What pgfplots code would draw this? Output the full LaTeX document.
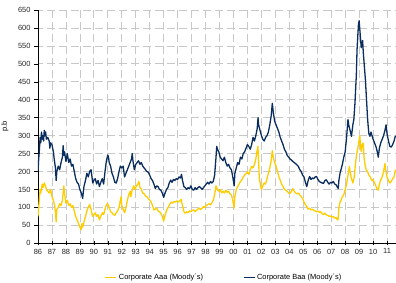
\documentclass[border=0pt]{standalone}
\usepackage{fontspec}
\setmainfont{Liberation Sans}
\usepackage{pgfplots}
\pgfplotsset{compat=1.18}
\definecolor{aaa}{RGB}{255,204,0}
\definecolor{baa}{RGB}{10,45,95}
\definecolor{gridc}{RGB}{200,200,200}
\begin{document}
\begin{tikzpicture}
\path[use as bounding box] (0,0) rectangle (396bp,283bp);
\begin{axis}[
  at={(38bp,39.7bp)}, anchor=south west,
  scale only axis, width=358bp, height=233.3bp,
  xmin=1986, xmax=2011.64, ymin=0, ymax=650,
  axis x line*=bottom, axis y line*=left,
  axis line style={black, line width=0.6pt, -},
  xtick={1986,...,2011},
  xticklabels={86,87,88,89,90,91,92,93,94,95,96,97,98,99,00,01,02,03,04,05,06,07,08,09,10,11},
  ytick={0,50,...,650},
  /pgf/number format/assume math mode=true,
  tick label style={font=\fontsize{7.5}{9}\selectfont, text=black!85},
  x tick style={black, line width=0.5pt},
  y tick style={black, line width=0.5pt},
  xtick align=center, ytick align=outside,
  major tick length=4bp,
  grid=major,
  major grid style={gridc, line width=0.7pt, dash pattern=on 8bp off 4bp, dash phase=3bp},
  ylabel={p.b},
  ylabel style={font=\fontsize{7.5}{9}\selectfont, at={(axis description cs:-0.073,0.5)}, anchor=south},
  legend columns=2,
  legend style={at={(axis description cs:0.52,-0.1445)}, anchor=center, draw=none, fill=none,
    font=\fontsize{7.5}{9}\selectfont,
    /tikz/every even column/.append style={column sep=38bp}},
  legend image code/.code={\draw[#1, line width=0.9pt] (0bp,0bp) -- (11bp,0bp);},
  every axis plot/.append style={line width=1.3pt, line join=round},
]
\addplot[aaa] coordinates {
(1986.0,75)(1986.05,100)(1986.1,125)(1986.15,150)(1986.2,140)(1986.3,165)(1986.35,155)(1986.45,168)(1986.55,158)(1986.6,150)(1986.7,145)(1986.8,140)(1986.9,150)
(1987.0,130)(1987.1,120)(1987.2,105)(1987.25,85)(1987.3,60)(1987.35,95)(1987.45,100)(1987.55,110)(1987.65,105)(1987.75,120)(1987.85,160)(1987.9,140)
(1988.0,112)(1988.1,120)(1988.2,105)(1988.3,110)(1988.4,100)(1988.5,105)(1988.6,90)(1988.7,75)(1988.8,65)(1988.9,55)
(1989.0,45)(1989.1,38)(1989.15,55)(1989.2,45)(1989.3,60)(1989.4,75)(1989.5,90)(1989.6,100)(1989.7,108)(1989.8,95)(1989.9,75)
(1990.0,80)(1990.1,85)(1990.2,75)(1990.3,80)(1990.4,65)(1990.5,75)(1990.6,85)(1990.7,80)(1990.8,95)(1990.9,108)
(1991.0,110)(1991.1,100)(1991.2,88)(1991.3,85)(1991.4,80)(1991.5,78)(1991.6,85)(1991.7,90)(1991.8,100)(1991.9,120)(1991.95,130)
(1992.0,105)(1992.1,95)(1992.2,85)(1992.3,100)(1992.4,120)(1992.5,135)(1992.6,145)(1992.65,130)(1992.75,150)(1992.85,160)(1992.95,150)
(1993.05,160)(1993.15,165)(1993.23,172)(1993.3,155)(1993.4,150)(1993.5,140)(1993.6,138)(1993.7,132)(1993.8,130)(1993.9,125)
(1994.0,120)(1994.1,115)(1994.2,105)(1994.3,93)(1994.4,95)(1994.5,98)(1994.6,90)(1994.7,88)(1994.8,84)(1994.9,75)
(1995.0,62)(1995.05,70)(1995.15,85)(1995.25,95)(1995.35,102)(1995.45,110)(1995.55,115)(1995.65,112)(1995.75,116)(1995.85,115)(1995.95,118)
(1996.05,115)(1996.15,118)(1996.25,122)(1996.35,105)(1996.45,88)(1996.55,84)(1996.65,88)(1996.75,85)(1996.85,90)(1996.95,88)
(1997.05,92)(1997.15,93)(1997.25,88)(1997.35,92)(1997.45,95)(1997.55,98)(1997.65,94)(1997.75,98)(1997.85,102)(1997.95,100)
(1998.05,105)(1998.15,108)(1998.25,110)(1998.35,107)(1998.45,112)(1998.55,120)(1998.65,135)(1998.75,160)(1998.85,150)(1998.95,145)
(1999.05,150)(1999.15,140)(1999.25,145)(1999.35,140)(1999.45,148)(1999.55,142)(1999.65,145)(1999.75,138)(1999.85,135)(1999.95,120)
(2000.04,98)(2000.1,130)(2000.2,150)(2000.3,158)(2000.4,165)(2000.5,172)(2000.6,177)(2000.7,185)(2000.8,190)(2000.9,195)
(2001.0,198)(2001.1,192)(2001.2,205)(2001.3,214)(2001.4,210)(2001.5,220)(2001.6,235)(2001.7,260)(2001.75,270)(2001.8,230)(2001.85,180)(2001.9,170)
(2002.0,150)(2002.1,160)(2002.2,168)(2002.3,165)(2002.4,180)(2002.5,195)(2002.6,210)(2002.7,230)(2002.78,258)(2002.85,240)(2002.95,225)
(2003.05,215)(2003.15,200)(2003.25,185)(2003.35,176)(2003.45,165)(2003.55,158)(2003.65,150)(2003.75,148)(2003.85,145)(2003.95,140)
(2004.05,139)(2004.15,145)(2004.25,152)(2004.35,145)(2004.45,140)(2004.55,138)(2004.65,140)(2004.75,135)(2004.85,130)(2004.95,125)
(2005.05,115)(2005.15,108)(2005.25,102)(2005.35,95)(2005.45,98)(2005.55,93)(2005.65,95)(2005.75,92)(2005.85,90)(2005.95,88)
(2006.05,90)(2006.15,86)(2006.25,88)(2006.35,82)(2006.45,80)(2006.55,84)(2006.65,79)(2006.75,78)(2006.85,75)(2006.95,76)
(2007.05,73)(2007.15,75)(2007.25,70)(2007.35,72)(2007.45,65)(2007.5,68)(2007.55,100)(2007.63,115)(2007.7,120)(2007.8,130)(2007.9,135)
(2008.0,150)(2008.1,165)(2008.2,190)(2008.3,214)(2008.35,200)(2008.45,180)(2008.55,168)(2008.65,185)(2008.72,215)(2008.8,242)(2008.9,265)(2008.97,280)
(2009.05,300)(2009.1,270)(2009.15,255)(2009.22,275)(2009.3,279)(2009.35,240)(2009.42,220)(2009.5,205)(2009.6,200)(2009.7,190)(2009.8,185)(2009.9,175)
(2010.0,177)(2010.1,168)(2010.2,160)(2010.3,150)(2010.37,148)(2010.45,165)(2010.55,177)(2010.65,185)(2010.75,200)(2010.85,222)(2010.9,205)
(2011.0,185)(2011.1,175)(2011.2,168)(2011.3,172)(2011.4,180)(2011.5,185)(2011.6,205)
};
\addlegendentry{Corporate Aaa (Moody´s)}
\addplot[baa] coordinates {
(1986.0,200)(1986.05,235)(1986.1,260)(1986.15,295)(1986.2,280)(1986.25,310)(1986.3,290)(1986.35,300)(1986.4,285)(1986.45,315)(1986.5,300)(1986.55,310)(1986.6,290)(1986.7,295)(1986.8,285)(1986.85,265)(1986.9,280)
(1987.0,275)(1987.1,255)(1987.17,232)(1987.25,210)(1987.3,175)(1987.35,200)(1987.45,215)(1987.55,205)(1987.65,225)(1987.75,240)(1987.8,272)(1987.85,245)(1987.9,255)
(1988.0,228)(1988.1,250)(1988.2,225)(1988.3,235)(1988.4,215)(1988.5,220)(1988.6,200)(1988.7,180)(1988.8,170)(1988.9,165)
(1989.0,150)(1989.1,140)(1989.2,125)(1989.25,145)(1989.3,160)(1989.4,175)(1989.5,195)(1989.6,185)(1989.7,200)(1989.8,205)(1989.85,190)(1989.92,168)
(1990.0,175)(1990.1,180)(1990.2,165)(1990.3,175)(1990.4,158)(1990.5,170)(1990.6,180)(1990.7,165)(1990.8,200)(1990.9,230)
(1991.0,246)(1991.05,240)(1991.1,225)(1991.2,215)(1991.3,195)(1991.4,185)(1991.5,170)(1991.6,168)(1991.7,180)(1991.8,200)(1991.9,215)
(1992.0,210)(1992.1,215)(1992.2,185)(1992.3,195)(1992.4,205)(1992.5,215)(1992.6,225)(1992.7,235)(1992.75,250)(1992.8,230)(1992.9,205)
(1993.0,220)(1993.1,225)(1993.2,230)(1993.3,220)(1993.4,225)(1993.5,215)(1993.6,210)(1993.7,205)(1993.8,200)(1993.9,198)
(1994.0,190)(1994.1,180)(1994.2,175)(1994.3,165)(1994.4,153)(1994.5,160)(1994.6,158)(1994.7,150)(1994.8,148)(1994.9,140)
(1995.0,128)(1995.1,140)(1995.2,150)(1995.3,155)(1995.4,168)(1995.5,176)(1995.6,170)(1995.7,178)(1995.8,175)(1995.9,180)
(1996.0,178)(1996.1,185)(1996.2,182)(1996.28,192)(1996.35,175)(1996.45,158)(1996.55,155)(1996.65,150)(1996.75,155)(1996.85,152)(1996.95,160)
(1997.05,150)(1997.15,148)(1997.25,155)(1997.35,150)(1997.45,155)(1997.55,158)(1997.65,155)(1997.75,150)(1997.85,155)(1997.95,160)
(1998.05,165)(1998.15,170)(1998.25,165)(1998.35,172)(1998.45,168)(1998.55,172)(1998.65,190)(1998.75,240)(1998.8,270)(1998.85,262)(1998.95,255)
(1999.05,240)(1999.15,235)(1999.25,230)(1999.35,240)(1999.45,225)(1999.55,215)(1999.65,220)(1999.75,210)(1999.85,205)(1999.95,185)
(2000.05,160)(2000.1,195)(2000.2,210)(2000.3,225)(2000.4,220)(2000.5,240)(2000.6,235)(2000.7,250)(2000.8,255)(2000.9,265)
(2001.0,275)(2001.1,270)(2001.2,262)(2001.3,275)(2001.4,295)(2001.5,285)(2001.6,300)(2001.7,320)(2001.76,350)(2001.8,330)(2001.9,315)
(2002.0,300)(2002.1,290)(2002.2,285)(2002.3,295)(2002.4,300)(2002.5,310)(2002.6,330)(2002.7,355)(2002.78,390)(2002.85,365)(2002.95,340)
(2003.05,330)(2003.15,320)(2003.25,310)(2003.35,295)(2003.45,285)(2003.55,275)(2003.65,262)(2003.75,255)(2003.85,245)(2003.95,240)
(2004.05,235)(2004.15,232)(2004.25,228)(2004.35,225)(2004.45,222)(2004.55,218)(2004.65,214)(2004.75,205)(2004.85,200)(2004.95,190)
(2005.05,185)(2005.15,170)(2005.25,158)(2005.35,175)(2005.45,186)(2005.55,178)(2005.65,182)(2005.75,180)(2005.85,185)(2005.95,186)
(2006.05,178)(2006.15,172)(2006.25,170)(2006.35,168)(2006.45,167)(2006.55,175)(2006.65,177)(2006.75,170)(2006.85,165)(2006.95,170)
(2007.05,168)(2007.15,172)(2007.25,165)(2007.35,163)(2007.45,156)(2007.5,153)(2007.55,175)(2007.63,195)(2007.7,205)(2007.8,220)(2007.9,240)
(2008.0,255)(2008.1,295)(2008.2,345)(2008.25,330)(2008.35,315)(2008.45,298)(2008.55,330)(2008.62,345)(2008.7,390)(2008.75,430)(2008.8,470)(2008.85,540)(2008.9,575)(2008.95,610)
(2009.0,620)(2009.05,595)(2009.1,570)(2009.15,545)(2009.2,555)(2009.25,565)(2009.3,530)(2009.35,505)(2009.4,480)(2009.45,455)(2009.5,420)(2009.55,385)(2009.6,350)(2009.65,325)(2009.7,305)(2009.77,298)(2009.85,310)(2009.92,300)
(2010.0,290)(2010.1,280)(2010.2,270)(2010.3,255)(2010.37,240)(2010.45,265)(2010.55,280)(2010.65,290)(2010.75,300)(2010.85,315)(2010.93,330)
(2011.0,305)(2011.1,285)(2011.2,270)(2011.3,268)(2011.4,275)(2011.5,285)(2011.6,300)
};
\addlegendentry{Corporate Baa (Moody´s)}
\end{axis}
\end{tikzpicture}
\end{document}
